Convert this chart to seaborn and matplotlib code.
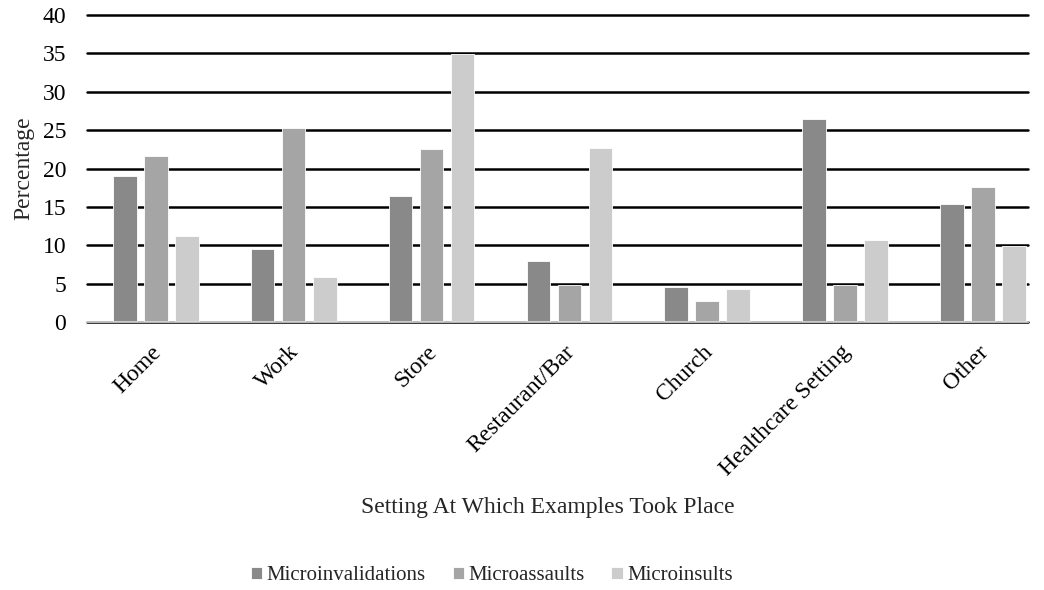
import pandas as pd
import matplotlib.pyplot as plt
import matplotlib.transforms as mtransforms
import seaborn as sns

sns.set_theme(style="white")
plt.rcParams['font.family'] = ['Liberation Serif', 'DejaVu Serif']

# --- data ---
settings = ['Home', 'Work', 'Store', 'Restaurant/Bar', 'Church',
            'Healthcare Setting', 'Other']
microinvalidations = [19.0, 9.5, 16.4, 8.0, 4.6, 26.5, 15.4]
microassaults = [21.6, 25.3, 22.5, 4.8, 2.8, 4.8, 17.6]
microinsults = [11.2, 5.9, 34.9, 22.7, 4.3, 10.7, 9.9]
series_names = ['Microinvalidations', 'Microassaults', 'Microinsults']
colors = ['#898989', '#a5a5a5', '#cccccc']

df = pd.DataFrame({
    'setting': settings * 3,
    'type': [series_names[0]] * 7 + [series_names[1]] * 7 + [series_names[2]] * 7,
    'pct': microinvalidations + microassaults + microinsults,
})

fig = plt.figure(figsize=(10.44, 5.9), dpi=100)
ax = fig.add_axes([0.0833, 0.4542, 0.9017, 0.5204])

sns.barplot(data=df, x='setting', y='pct', hue='type', palette=colors,
            width=0.675, gap=0.24, edgecolor='white', linewidth=0.6,
            saturation=1, ax=ax, zorder=3)

ax.set_xlim(-0.5, 6.33)
ax.set_ylim(0, 40)
ax.set_yticks(range(0, 41, 5))
ax.yaxis.grid(True, color='black', linewidth=1.8, zorder=0)
for gl in ax.get_ygridlines():
    gl.set_clip_on(False)
ax.set_axisbelow(True)
for s in ['top', 'right', 'left']:
    ax.spines[s].set_visible(False)
ax.spines['bottom'].set_color('#d9d9d9')
ax.spines['bottom'].set_linewidth(1.2)
ax.spines['bottom'].set_zorder(4)
ax.tick_params(axis='both', length=0, labelsize=17, colors='black')
ax.tick_params(axis='y', pad=15)
ax.tick_params(axis='x', pad=14)
shift = mtransforms.ScaledTranslation(-5 / 100, 0, fig.dpi_scale_trans)
for lbl in ax.get_xticklabels():
    lbl.set_rotation(45)
    lbl.set_ha('right')
    lbl.set_rotation_mode('anchor')
    lbl.set_transform(lbl.get_transform() + shift)

ax.set_ylabel('Percentage', fontsize=17, labelpad=6)
ax.set_xlabel('Setting At Which Examples Took Place', fontsize=17)
ax.xaxis.set_label_coords(0.49, -0.57)

handles, labels = ax.get_legend_handles_labels()
ax.get_legend().remove()
fig.legend(handles, labels, loc='center', bbox_to_anchor=(0.471, 0.024),
           ncol=3, frameon=False, fontsize=15, handlelength=0.55,
           handleheight=0.55, handletextpad=0.2, columnspacing=1.3)

plt.savefig('out.png', dpi=100)
plt.close()
